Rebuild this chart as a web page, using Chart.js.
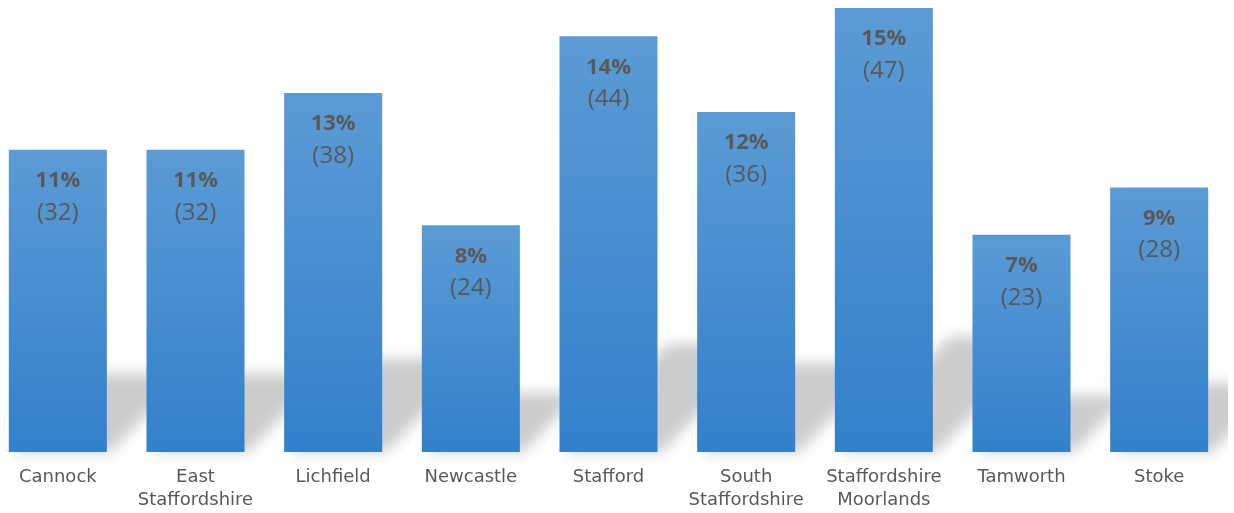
<!DOCTYPE html>
<html>
<head>
    <title>Staffordshire districts</title>
    <script src="https://cdn.jsdelivr.net/npm/chart.js@4"></script>
    <style>
        html, body {
            margin: 0;
            padding: 0;
            background: #ffffff;
            overflow: hidden;
        }

        .chart-box {
            position: absolute;
            left: -11px;
            top: 0;
            width: 1239px;
            height: 513px;
        }
    </style>
</head>
<body>
    <div class="chart-box">
        <canvas id="districtChart"></canvas>
    </div>

    <script>
        const districts = [
            'Cannock',
            ['East', 'Staffordshire'],
            'Lichfield',
            'Newcastle',
            'Stafford',
            ['South', 'Staffordshire'],
            ['Staffordshire', 'Moorlands'],
            'Tamworth',
            'Stoke'
        ];
        const counts = [32, 32, 38, 24, 44, 36, 47, 23, 28];
        const percents = [11, 11, 13, 8, 14, 12, 15, 7, 9];

        // perspective shadow behind each bar
        const shadowPlugin = {
            id: 'barShadow',
            beforeDatasetsDraw(chart) {
                const ctx = chart.ctx;
                const bars = chart.getDatasetMeta(0).data;
                ctx.save();
                ctx.filter = 'blur(7px)';
                ctx.fillStyle = 'rgba(0,0,0,0.2)';
                bars.forEach(bar => {
                    const left = bar.x - bar.width / 2;
                    const right = bar.x + bar.width / 2;
                    const h = (bar.base - bar.y) * 0.26;
                    const dx = h * 1.0;
                    ctx.beginPath();
                    ctx.moveTo(left + 4, bar.base);
                    ctx.lineTo(right + 4, bar.base);
                    ctx.lineTo(right + dx, bar.base - h);
                    ctx.lineTo(left + dx, bar.base - h);
                    ctx.closePath();
                    ctx.fill();
                });
                ctx.restore();
            }
        };

        const labelPlugin = {
            id: 'barLabels',
            afterDatasetsDraw(chart) {
                const ctx = chart.ctx;
                const bars = chart.getDatasetMeta(0).data;
                ctx.save();
                ctx.textAlign = 'center';
                ctx.textBaseline = 'middle';
                ctx.fillStyle = '#595959';
                bars.forEach((bar, i) => {
                    ctx.font = 'bold 22px "Open Sans", sans-serif';
                    ctx.fillText(percents[i] + '%', bar.x, bar.y + 31);
                    ctx.font = '24px "Open Sans", sans-serif';
                    ctx.fillText('(' + counts[i] + ')', bar.x, bar.y + 63);
                });
                ctx.restore();
            }
        };

        function barGradient(context) {
            const chart = context.chart;
            if (!chart.chartArea) return '#4a8fd3';
            const yScale = chart.scales.y;
            const top = yScale.getPixelForValue(context.raw);
            const bottom = yScale.getPixelForValue(0);
            const g = chart.ctx.createLinearGradient(0, top, 0, bottom);
            g.addColorStop(0, '#5b9bd5');
            g.addColorStop(1, '#3380cb');
            return g;
        }

        const chart = new Chart(document.getElementById('districtChart'), {
            type: 'bar',
            data: {
                labels: districts,
                datasets: [{
                    data: counts,
                    backgroundColor: barGradient,
                    borderWidth: 0,
                    categoryPercentage: 1,
                    barPercentage: 0.712
                }]
            },
            options: {
                responsive: true,
                maintainAspectRatio: false,
                animation: false,
                layout: {
                    padding: { top: 8, bottom: 0, left: 0, right: 0 }
                },
                plugins: {
                    legend: { display: false },
                    tooltip: { enabled: false }
                },
                scales: {
                    x: {
                        grid: { display: false },
                        border: { display: false },
                        afterFit(scale) { scale.height = 61; },
                        ticks: {
                            color: '#595959',
                            padding: 6,
                            maxRotation: 0,
                            autoSkip: false,
                            font: { family: '"DejaVu Sans", Verdana, sans-serif', size: 18, lineHeight: 1.28 }
                        }
                    },
                    y: {
                        display: false,
                        min: 0,
                        max: 47
                    }
                }
            },
            plugins: [shadowPlugin, labelPlugin]
        });
    </script>
</body>
</html>
